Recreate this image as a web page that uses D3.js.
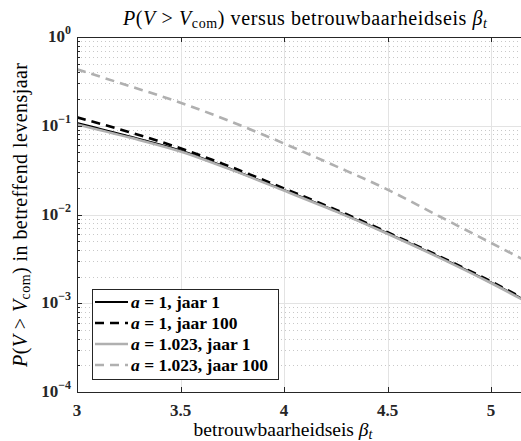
<!DOCTYPE html>
<html><head><meta charset="utf-8">
<script src="https://cdn.jsdelivr.net/npm/d3@7"></script>
<style>body{margin:0;background:#fff}svg{display:block}text{font-family:"Liberation Serif","Times New Roman",serif}</style>
</head><body>
<svg id="c" width="521" height="441"></svg>
<script>
const beta = [3, 3.25, 3.5, 3.75, 4, 4.25, 4.5, 4.75, 5, 5.2];
const a1_jaar1   = [0.107, 0.0759, 0.0524, 0.0320, 0.0189, 0.01096, 0.00614, 0.00331, 0.00171, 0.000977];
const a1_jaar100 = [0.1245, 0.0851, 0.0557, 0.0339, 0.0197, 0.01135, 0.00631, 0.00339, 0.00176, 0.00100];
const a1023_jaar1   = [0.1035, 0.0741, 0.0513, 0.0316, 0.0186, 0.01084, 0.00607, 0.00327, 0.00169, 0.000955];
const a1023_jaar100 = [0.432, 0.282, 0.182, 0.110, 0.0631, 0.0351, 0.0191, 0.00955, 0.00479, 0.00275];
const xTicks = [3, 3.5, 4, 4.5, 5];
const xTickLabels = ["3", "3.5", "4", "4.5", "5"];
const yExps = [0, -1, -2, -3, -4];
const seriesNames = ["a = 1, jaar 1", "a = 1, jaar 100", "a = 1.023, jaar 1", "a = 1.023, jaar 100"];

const svg = d3.select("#c");
const L = 77, T = 37, B = 392;
const x = d3.scaleLinear().domain([3, 5.2]).range([L, L + 2.2 * 207]);
const y = d3.scaleLog().domain([1e-4, 1]).range([B, T]);
const R = x.range()[1];

svg.append("clipPath").attr("id", "clip").append("rect")
  .attr("x", L).attr("y", T).attr("width", R - L).attr("height", B - T);

const minors = [];
for (let e = -4; e < 0; e++) for (let m = 2; m <= 9; m++) minors.push(m * Math.pow(10, e));
const g = svg.append("g");
g.selectAll(".mg").data(minors).enter().append("line")
  .attr("x1", L).attr("x2", R).attr("y1", d => Math.round(y(d)) + 0.5).attr("y2", d => Math.round(y(d)) + 0.5)
  .attr("stroke", "#c8c8c8").attr("stroke-width", 1).attr("stroke-dasharray", "1,3");
g.selectAll(".gy").data(yExps).enter().append("line")
  .attr("x1", L).attr("x2", R).attr("y1", d => Math.round(y(Math.pow(10, d))) + 0.5).attr("y2", d => Math.round(y(Math.pow(10, d))) + 0.5)
  .attr("stroke", "#e3e3e3").attr("stroke-width", 1);
g.selectAll(".gx").data(xTicks).enter().append("line")
  .attr("y1", T).attr("y2", B).attr("x1", d => Math.round(x(d)) + 0.5).attr("x2", d => Math.round(x(d)) + 0.5)
  .attr("stroke", "#e3e3e3").attr("stroke-width", 1);

const line = d3.line().x(d => x(d[0])).y(d => y(d[1])).curve(d3.curveMonotoneX);
const series = [
  {v: a1_jaar1, c: "#000", w: 2.2, dash: null},
  {v: a1_jaar100, c: "#000", w: 2.6, dash: "9,6"},
  {v: a1023_jaar1, c: "#b0b0b0", w: 2.6, dash: null},
  {v: a1023_jaar100, c: "#b0b0b0", w: 2.6, dash: "9,6"}
];
const lg = svg.append("g").attr("clip-path", "url(#clip)");
series.forEach(s => {
  lg.append("path").datum(beta.map((b, i) => [b, s.v[i]]))
    .attr("d", line).attr("fill", "none").attr("stroke", s.c).attr("stroke-width", s.w)
    .attr("stroke-dasharray", s.dash);
});

const ax = svg.append("g").attr("stroke", "#262626").attr("stroke-width", 1).attr("fill", "none");
ax.append("line").attr("x1", L + 0.5).attr("x2", L + 0.5).attr("y1", T).attr("y2", B + 0.5);
ax.append("line").attr("x1", L).attr("x2", R).attr("y1", B + 0.5).attr("y2", B + 0.5);
ax.append("line").attr("x1", L).attr("x2", R).attr("y1", T + 0.5).attr("y2", T + 0.5);
xTicks.forEach(t => {
  const px = Math.round(x(t)) + 0.5;
  ax.append("line").attr("x1", px).attr("x2", px).attr("y1", B).attr("y2", B - 5);
  ax.append("line").attr("x1", px).attr("x2", px).attr("y1", T).attr("y2", T + 5);
});
yExps.forEach(e => {
  const py = Math.round(y(Math.pow(10, e))) + 0.5;
  ax.append("line").attr("x1", L).attr("x2", L + 5).attr("y1", py).attr("y2", py);
});
minors.forEach(m => {
  const py = Math.round(y(m)) + 0.5;
  ax.append("line").attr("x1", L).attr("x2", L + 3).attr("y1", py).attr("y2", py);
});

svg.selectAll(".xt").data(xTicks).enter().append("text")
  .attr("x", d => x(d)).attr("y", 416).attr("text-anchor", "middle")
  .attr("font-size", 17).attr("font-weight", "bold").attr("fill", "#262626")
  .text((d, i) => xTickLabels[i]);
yExps.forEach(e => {
  const t = svg.append("text").attr("x", 71).attr("y", y(Math.pow(10, e)) + 5)
    .attr("text-anchor", "end").attr("font-size", 17).attr("font-weight", "bold").attr("fill", "#262626");
  t.append("tspan").text("10");
  t.append("tspan").attr("dy", -8).attr("font-size", 12).text(e === 0 ? "0" : "\u2212" + (-e));
});

const title = svg.append("text").attr("x", 305).attr("y", 25).attr("text-anchor", "middle")
  .attr("font-size", 20).attr("fill", "#000").attr("textLength", 364).attr("lengthAdjust", "spacing");
title.append("tspan").attr("font-style", "italic").text("P");
title.append("tspan").text("(");
title.append("tspan").attr("font-style", "italic").text("V");
title.append("tspan").text(" > ");
title.append("tspan").attr("font-style", "italic").text("V");
title.append("tspan").attr("font-size", 14).attr("dy", 3).text("com");
title.append("tspan").attr("dy", -3).text(") versus betrouwbaarheidseis ");
title.append("tspan").attr("font-style", "italic").text("\u03B2");
title.append("tspan").attr("font-style", "italic").attr("font-size", 14).attr("dy", 3).text("t");

const xl = svg.append("text").attr("x", 283).attr("y", 436).attr("text-anchor", "middle")
  .attr("font-size", 19.5).attr("fill", "#000");
xl.append("tspan").text("betrouwbaarheidseis ");
xl.append("tspan").attr("font-style", "italic").text("\u03B2");
xl.append("tspan").attr("font-style", "italic").attr("font-size", 14).attr("dy", 3).text("t");

const yl = svg.append("text").attr("transform", "translate(27,215) rotate(-90)").attr("text-anchor", "middle")
  .attr("font-size", 20).attr("fill", "#000").attr("textLength", 304).attr("lengthAdjust", "spacing");
yl.append("tspan").attr("font-style", "italic").text("P");
yl.append("tspan").text("(");
yl.append("tspan").attr("font-style", "italic").text("V");
yl.append("tspan").text(" > ");
yl.append("tspan").attr("font-style", "italic").text("V");
yl.append("tspan").attr("font-size", 14).attr("dy", 3).text("com");
yl.append("tspan").attr("dy", -3).text(") in betreffend levensjaar");

const leg = svg.append("g");
leg.append("rect").attr("x", 92.5).attr("y", 289.5).attr("width", 186).attr("height", 90)
  .attr("fill", "#fff").attr("stroke", "#262626").attr("stroke-width", 1);
const rows = [302, 323, 344, 365];
series.forEach((s, i) => {
  leg.append("line").attr("x1", 95).attr("x2", 128).attr("y1", rows[i]).attr("y2", rows[i])
    .attr("stroke", s.c).attr("stroke-width", s.w).attr("stroke-dasharray", s.dash);
  const t = leg.append("text").attr("x", 131).attr("y", rows[i] + 6).attr("font-size", 17.5)
    .attr("font-weight", "bold").attr("fill", "#000");
  const parts = seriesNames[i].split(" = ");
  t.append("tspan").attr("font-style", "italic").text(parts[0]);
  t.append("tspan").text(" = " + parts[1]);
});
</script>
</body></html>
